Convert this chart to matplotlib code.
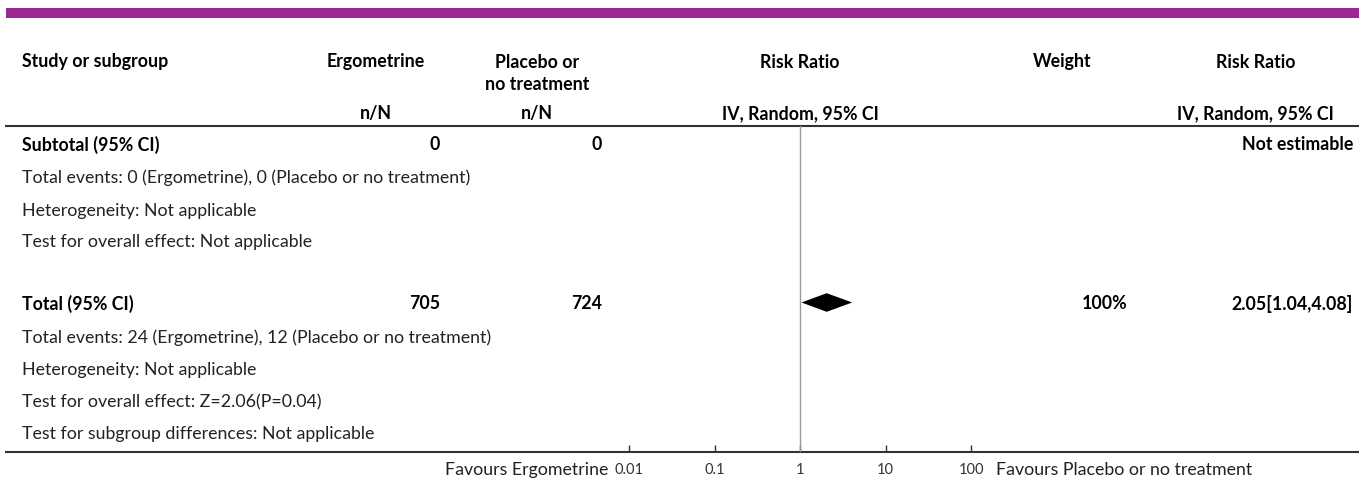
import matplotlib
matplotlib.use("Agg")
import matplotlib.pyplot as plt

plt.rcParams['font.family'] = ['Lato', 'DejaVu Sans']

# data
tick_vals = [0.01, 0.1, 1, 10, 100]
tick_labels = ["0.01", "0.1", "1", "10", "100"]
total_rr = 2.05
total_lo = 1.04
total_hi = 4.08
total_n = ["705", "724"]
subtotal_n = ["0", "0"]
total_weight = "100%"
total_ci_text = "2.05[1.04,4.08]"

W, H = 1359, 481
fig = plt.figure(figsize=(W / 100, H / 100), dpi=100)
ax = fig.add_axes([0, 0, 1, 1])
ax.set_xlim(0, W)
ax.set_ylim(H, 0)
ax.axis("off")

FS = 12.8
DARK = "#222222"
PURPLE = "#9B2793"


def bold(x, y, s, ha="left"):
    ax.text(x, y, s, fontsize=FS, fontweight="bold", va="center", ha=ha)


def plain(x, y, s, ha="left"):
    ax.text(x, y, s, fontsize=FS, va="center", ha=ha, color=DARK)


# purple band
ax.fill_between([6, W], 9, 19, color=PURPLE, lw=0)

# header
bold(22, 62, "Study or subgroup")
bold(376, 62, "Ergometrine", "center")
bold(537, 62, "Placebo or", "center")
bold(537, 84, "no treatment", "center")
bold(800, 62, "Risk Ratio", "center")
bold(1062, 62, "Weight", "center")
bold(1256, 62, "Risk Ratio", "center")
bold(376, 114, "n/N", "center")
bold(537, 114, "n/N", "center")
bold(800, 114, "IV, Random, 95% CI", "center")
bold(1334, 114, "IV, Random, 95% CI", "right")

ax.plot([6, W], [127, 127], color="#333333", lw=1.5)
ax.plot([6, W], [453, 453], color="#333333", lw=1.5)

# rows
bold(22, 145, "Subtotal (95% CI)")
bold(440, 145, subtotal_n[0], "right")
bold(602, 145, subtotal_n[1], "right")
bold(1353, 145, "Not estimable", "right")
plain(22, 178, "Total events: 0 (Ergometrine), 0 (Placebo or no treatment)")
plain(22, 211, "Heterogeneity: Not applicable")
plain(22, 242, "Test for overall effect: Not applicable")

bold(22, 304, "Total (95% CI)")
bold(440, 304, total_n[0], "right")
bold(602, 304, total_n[1], "right")
bold(1127, 304, total_weight, "right")
bold(1353, 304, total_ci_text, "right")
plain(22, 338, "Total events: 24 (Ergometrine), 12 (Placebo or no treatment)")
plain(22, 370, "Heterogeneity: Not applicable")
plain(22, 402, "Test for overall effect: Z=2.06(P=0.04)")
plain(22, 434, "Test for subgroup differences: Not applicable")

plain(608, 470, "Favours Ergometrine", "right")
plain(996, 470, "Favours Placebo or no treatment", "left")

# forest axis
x0, x1 = 629, 971
y_top, y_bot = 127, 453
fx = fig.add_axes([x0 / W, 1 - y_bot / H, (x1 - x0) / W, (y_bot - y_top) / H])
fx.set_xscale("log")
fx.set_xlim(0.01, 100)
fx.set_ylim(y_bot, y_top)
fx.patch.set_alpha(0)
for s in ["top", "right", "left", "bottom"]:
    fx.spines[s].set_visible(False)
fx.set_yticks([])
fx.set_xticks(tick_vals)
fx.set_xticklabels(tick_labels)
fx.minorticks_off()
fx.tick_params(axis="x", direction="in", length=5, width=1, color="#333333",
               pad=7, labelsize=10.5, labelcolor="#333333")
fx.axvline(1, color="#999999", lw=1)

ym = 303.5
hh = 9.3
fx.fill([total_lo, total_rr, total_hi, total_rr], [ym, ym - hh, ym, ym + hh], color="black", lw=0)

fig.savefig("out.png", dpi=100)
